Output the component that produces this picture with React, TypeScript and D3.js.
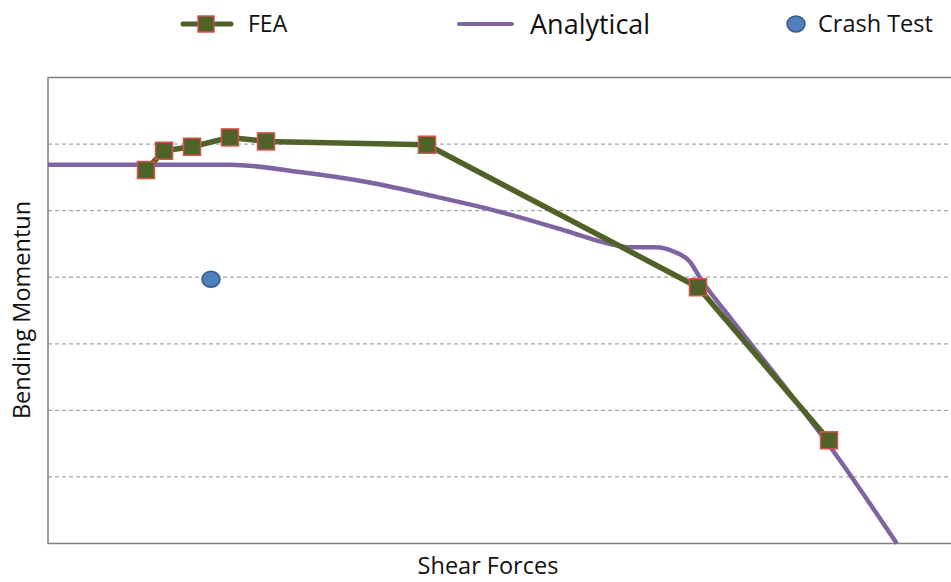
import React, { useEffect, useRef } from "react";
import * as d3 from "d3";

const feaX = [10.85, 12.85, 15.95, 20.15, 24.14, 41.97, 71.98, 86.49];
const feaY = [5.61, 5.9, 5.96, 6.1, 6.04, 5.99, 3.85, 1.55];

const anaX = [0, 10.2, 20.2, 27.9, 35.3, 42.6, 50.1, 57.5, 62.2, 64.5, 67.2, 69.4, 71.1, 72.2, 75.5, 81.1, 86.9, 94.0];
const anaY = [5.69, 5.69, 5.69, 5.58, 5.43, 5.22, 4.98, 4.69, 4.5, 4.45, 4.45, 4.38, 4.23, 3.99, 3.4, 2.44, 1.4, 0];

const crashX = [18.05];
const crashY = [3.97];

const gridValues = [1, 2, 3, 4, 5, 6];

const W = 951;
const H = 582;
const FONT = "'Open Sans', 'Liberation Sans', sans-serif";

export default function App() {
  const ref = useRef<SVGSVGElement>(null);
  useEffect(() => {
    document.body.style.margin = "0";
    const svg = d3.select(ref.current);
    svg.selectAll("*").remove();
    const left = 48, right = 951, top = 77.5, bottom = 543.5;
    const x = d3.scaleLinear().domain([0, 100]).range([left, right]);
    const y = d3.scaleLinear().domain([0, 7]).range([bottom, top]);

    svg.append("rect").attr("width", W).attr("height", H).attr("fill", "#fff");

    // grid
    svg.append("g").selectAll("line").data(gridValues).join("line")
      .attr("x1", left).attr("x2", right)
      .attr("y1", (d) => y(d)).attr("y2", (d) => y(d))
      .attr("stroke", "#a6a6a6").attr("stroke-width", 1.2)
      .attr("stroke-dasharray", "4,3");

    // border
    svg.append("path")
      .attr("d", `M${right + 2},${top}H${left}V${bottom}H${right + 2}`)
      .attr("fill", "none").attr("stroke", "#7f7f7f").attr("stroke-width", 1.5);

    // analytical
    const ana = anaX.map((v, i) => [v, anaY[i]] as [number, number]);
    svg.append("path")
      .attr("d", d3.line<[number, number]>().x((d) => x(d[0])).y((d) => y(d[1])).curve(d3.curveMonotoneX)(ana))
      .attr("fill", "none").attr("stroke", "#8064a2").attr("stroke-width", 4.5);

    // FEA
    const fea = feaX.map((v, i) => [v, feaY[i]] as [number, number]);
    svg.append("path")
      .attr("d", d3.line<[number, number]>().x((d) => x(d[0])).y((d) => y(d[1])).curve(d3.curveLinear)(fea))
      .attr("fill", "none").attr("stroke", "#4f6228").attr("stroke-width", 5.5)
      .attr("stroke-linejoin", "round");
    const s = 17;
    svg.append("g").selectAll("rect").data(fea).join("rect")
      .attr("x", (d) => x(d[0]) - s / 2).attr("y", (d) => y(d[1]) - s / 2)
      .attr("width", s).attr("height", s)
      .attr("fill", "#4f6228").attr("stroke", "#d9504d").attr("stroke-width", 1.5);

    // crash
    svg.append("g").selectAll("ellipse").data(crashX.map((v, i) => [v, crashY[i]])).join("ellipse")
      .attr("cx", (d) => x(d[0])).attr("cy", (d) => y(d[1]))
      .attr("rx", 9).attr("ry", 8)
      .attr("fill", "#4f81bd").attr("stroke", "#385d8a").attr("stroke-width", 1.5);

    // legend
    const lg = svg.append("g");
    lg.append("line").attr("x1", 183).attr("x2", 231).attr("y1", 24).attr("y2", 24)
      .attr("stroke", "#4f6228").attr("stroke-width", 5).attr("stroke-linecap", "round");
    lg.append("rect").attr("x", 198).attr("y", 16).attr("width", 16).attr("height", 16)
      .attr("fill", "#4f6228").attr("stroke", "#d9504d").attr("stroke-width", 1.5);
    lg.append("text").attr("x", 248).attr("y", 32).text("FEA")
      .attr("font-family", FONT).attr("font-size", 23).attr("fill", "#111");
    lg.append("line").attr("x1", 459).attr("x2", 512).attr("y1", 24).attr("y2", 24)
      .attr("stroke", "#8064a2").attr("stroke-width", 4).attr("stroke-linecap", "round");
    lg.append("text").attr("x", 530).attr("y", 34).text("Analytical")
      .attr("font-family", FONT).attr("font-size", 27).attr("fill", "#111");
    lg.append("ellipse").attr("cx", 796).attr("cy", 24).attr("rx", 9).attr("ry", 8)
      .attr("fill", "#4f81bd").attr("stroke", "#385d8a").attr("stroke-width", 1.5);
    lg.append("text").attr("x", 818).attr("y", 32).text("Crash Test")
      .attr("font-family", FONT).attr("font-size", 23.5).attr("fill", "#111");

    // axis titles
    svg.append("text").attr("x", 488).attr("y", 574).attr("text-anchor", "middle")
      .text("Shear Forces").attr("font-family", FONT).attr("font-size", 23.5).attr("fill", "#111");
    svg.append("text").attr("transform", "translate(30,310) rotate(-90)").attr("text-anchor", "middle")
      .text("Bending Momentun").attr("font-family", FONT).attr("font-size", 23.5).attr("fill", "#111");
  }, []);
  return <svg ref={ref} width={W} height={H} style={{ display: "block" }} />;
}
